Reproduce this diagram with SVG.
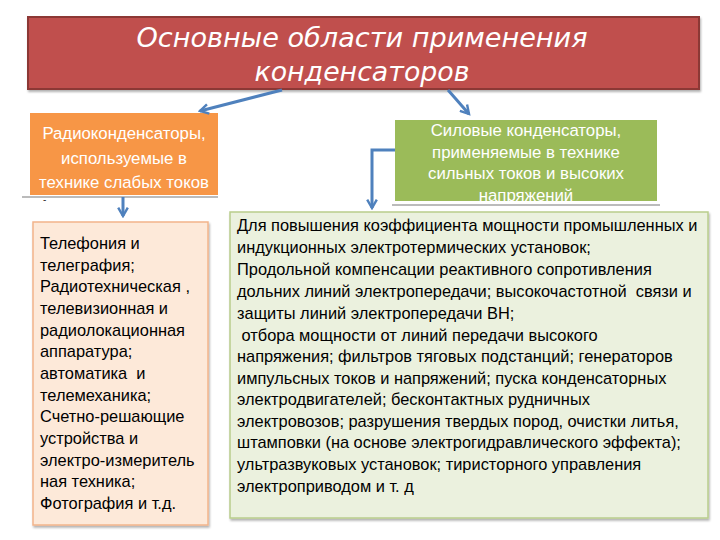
<svg xmlns="http://www.w3.org/2000/svg" width="720" height="540" viewBox="0 0 720 540">
<defs>
<marker id="arr" viewBox="0 0 10 10" refX="8" refY="5" markerWidth="4" markerHeight="4" orient="auto" markerUnits="strokeWidth">
<path d="M1,1 L8,5 L1,9" fill="none" stroke="#4F81BD" stroke-width="2"/>
</marker>
<filter id="sh" x="-5%" y="-5%" width="110%" height="115%">
<feDropShadow dx="1" dy="2" stdDeviation="1.2" flood-color="#000" flood-opacity="0.3"/>
</filter>
</defs>
<style>
.title{font-family:"DejaVu Sans",sans-serif;font-style:italic;font-size:26px;fill:#fff;text-anchor:middle}
.wt{font-family:"Liberation Sans","Noto Sans",sans-serif;font-size:16.8px;fill:#fff;text-anchor:middle}
.bt{font-family:"Liberation Sans","Noto Sans",sans-serif;font-size:16.4px;fill:#000}
.con{fill:none;stroke:#4F81BD;stroke-width:3;marker-end:url(#arr)}
</style>
<rect width="720" height="540" fill="#fff"/>
<g id="title">
<rect x="28" y="17" width="671" height="72" fill="#C0504D" stroke="#8C3836" stroke-width="2" filter="url(#sh)"/>
<text class="title" x="362" y="47" textLength="451" lengthAdjust="spacingAndGlyphs">Основные области применения</text>
<text class="title" x="362" y="81" textLength="215" lengthAdjust="spacingAndGlyphs">конденсаторов</text>
</g>
<g id="radio">
<line x1="22" y1="197" x2="218" y2="197" stroke="#bbb" stroke-width="2"/>
<rect x="30" y="113" width="188" height="82" fill="#F79646"/>
<text class="wt" x="124" y="139">Радиоконденсаторы,</text>
<text class="wt" x="124" y="164">используемые в</text>
<text class="wt" x="124" y="188">технике слабых токов</text>
<text x="43" y="203" font-family="Liberation Sans, sans-serif" font-size="10" fill="#333">-</text>
</g>
<g id="power">
<line x1="392" y1="205" x2="660" y2="205" stroke="#bbb" stroke-width="2"/>
<rect x="395" y="120" width="262" height="81" fill="#9BBB59"/>
<text class="wt" x="526" y="136">Силовые конденсаторы,</text>
<text class="wt" x="526" y="158">применяемые в технике</text>
<text class="wt" x="526" y="179">сильных токов и высоких</text>
<text class="wt" x="526" y="201">напряжений</text>
</g>
<g id="radio-list">
<rect x="33" y="222" width="175" height="303" fill="#FDE9D9" stroke="#F2B48A" stroke-width="1.5" filter="url(#sh)"/>
<g class="bt">
<text x="40" y="249">Телефония и</text>
<text x="40" y="271">телеграфия;</text>
<text x="40" y="292">Радиотехническая ,</text>
<text x="40" y="314">телевизионная и</text>
<text x="40" y="336">радиолокационная</text>
<text x="40" y="357">аппаратура;</text>
<text x="40" y="379" xml:space="preserve">автоматика  и</text>
<text x="40" y="401">телемеханика;</text>
<text x="40" y="422">Счетно-решающие</text>
<text x="40" y="444">устройства и</text>
<text x="40" y="466">электро-измеритель</text>
<text x="40" y="487">ная техника;</text>
<text x="40" y="509">Фотография и т.д.</text>
</g>
</g>
<g id="power-list">
<rect x="230" y="212" width="478" height="306" fill="#EBF1DE" stroke="#B9CD8C" stroke-width="1.5" filter="url(#sh)"/>
<g class="bt">
<text x="237" y="231">Для повышения коэффициента мощности промышленных и</text>
<text x="237" y="253">индукционных электротермических установок;</text>
<text x="237" y="275">Продольной компенсации реактивного сопротивления</text>
<text x="237" y="297" xml:space="preserve">дольних линий электропередачи; высокочастотной  связи и</text>
<text x="237" y="319">защиты линий электропередачи ВН;</text>
<text x="237" y="341" xml:space="preserve"> отбора мощности от линий передачи высокого</text>
<text x="237" y="362">напряжения; фильтров тяговых подстанций; генераторов</text>
<text x="237" y="384">импульсных токов и напряжений; пуска конденсаторных</text>
<text x="237" y="405">электродвигателей; бесконтактных рудничных</text>
<text x="237" y="427">электровозов; разрушения твердых пород, очистки литья,</text>
<text x="237" y="448">штамповки (на основе электрогидравлического эффекта);</text>
<text x="237" y="470">ультразвуковых установок; тиристорного управления</text>
<text x="237" y="492">электроприводом и т. д</text>
</g>
</g>
<g id="connectors">
<path class="con" d="M282,90 L200,111"/>
<path class="con" d="M448,90 L469,114"/>
<path class="con" d="M123,197 L123,216"/>
<path class="con" d="M395,150 L372,150 L372,208"/>
</g>
</svg>
